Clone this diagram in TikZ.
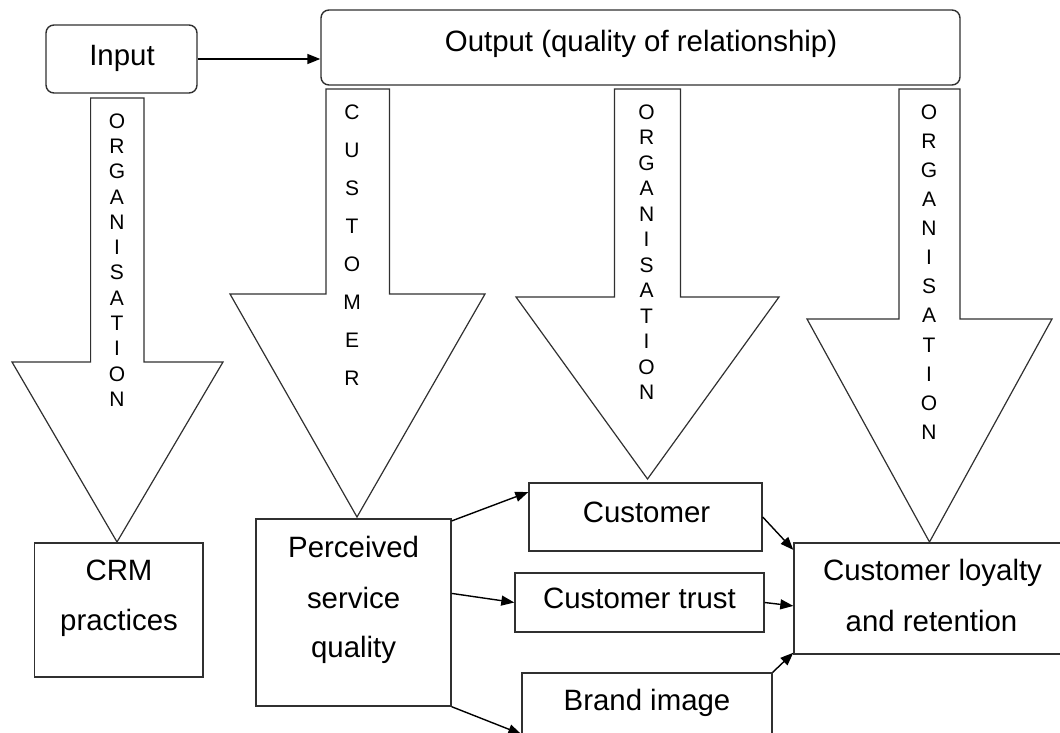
\documentclass[tikz,border=0pt]{standalone}
\usepackage{fontspec}
\setmainfont{Liberation Sans}
\usetikzlibrary{arrows.meta}
\definecolor{linegray}{HTML}{303030}
\begin{document}
\begin{tikzpicture}[x=1pt,y=-1pt,
  frame/.style={draw=linegray, line width=1.4pt, fill=white, inner sep=0pt},
  rbox/.style={frame, rounded corners=8pt},
  blockarrow/.style={draw=linegray, line width=1.2pt, fill=white, line join=miter},
  lbl/.style={font=\fontsize{29.4}{34}\selectfont, anchor=base, inner sep=0pt},
  vtxt/.style={align=center, inner sep=0pt},
  link/.style={draw=black, line width=1.4pt, -{Triangle[length=13pt,width=10pt]}}
]
\useasboundingbox (0,0) rectangle (1060,733);
\clip (0,0) rectangle (1060,733);

% block arrows
\draw[blockarrow] (90.6,98) -- (144,98) -- (144,362) -- (223,362) -- (117,542)
  -- (12,362) -- (90.6,362) -- cycle;
\draw[blockarrow] (326,89) -- (389.5,89) -- (389.5,294) -- (485,294) -- (357,517)
  -- (230,294) -- (326,294) -- cycle;
\draw[blockarrow] (614.5,89) -- (680.4,89) -- (680.4,297) -- (779,297) -- (647.5,479)
  -- (516,297) -- (614.5,297) -- cycle;
\draw[blockarrow] (899,89) -- (960,89) -- (960,319) -- (1052,319) -- (929.5,542)
  -- (807,319) -- (899,319) -- cycle;

% lettering inside the block arrows
\node[vtxt, font=\fontsize{21}{25.3}\selectfont] (v1) at (117,260)
  {O\\R\\G\\A\\N\\I\\S\\A\\T\\I\\O\\N};
\node[vtxt, font=\fontsize{21}{38}\selectfont] (v2) at (352,245)
  {C\\U\\S\\T\\O\\M\\E\\R};
\node[vtxt, font=\fontsize{21}{25.5}\selectfont] (v3) at (646.6,252)
  {O\\R\\G\\A\\N\\I\\S\\A\\T\\I\\O\\N};
\node[vtxt, font=\fontsize{21}{29.1}\selectfont] (v4) at (929,272)
  {O\\R\\G\\A\\N\\I\\S\\A\\T\\I\\O\\N};

% boxes
\node[rbox, minimum width=151pt, minimum height=68pt] (input) at (121.5,59) {};
\node[rbox, minimum width=639pt, minimum height=75pt] (output) at (640.5,47.5) {};
\node[frame, minimum width=168.5pt, minimum height=134pt] (crm) at (118.75,610) {};
\node[frame, minimum width=195pt, minimum height=187pt] (pq) at (353.5,612.5) {};
\node[frame, minimum width=233pt, minimum height=68pt] (cust) at (645.5,517) {};
\node[frame, minimum width=249pt, minimum height=59pt] (trust) at (639.5,602.5) {};
\node[frame, minimum width=250pt, minimum height=87pt] (brand) at (647,716.5) {};
\node[frame, minimum width=281pt, minimum height=111pt] (loyal) at (934.5,598.5) {};

% box texts
\node[lbl] (inputtext) at (122,66) {Input};
\node[lbl] (outputtext) at (641,52) {Output (quality of relationship)};
\node[lbl] (crmA) at (119,580) {CRM};
\node[lbl] (crmB) at (119,630) {practices};
\node[lbl] (pqA) at (353.6,557) {Perceived};
\node[lbl] (pqB) at (353.6,608) {service};
\node[lbl] (pqC) at (353.6,657) {quality};
\node[lbl] (custtext) at (646.5,522) {Customer};
\node[lbl] (trusttext) at (639.5,608) {Customer trust};
\node[lbl] (brandtext) at (647,710) {Brand image};
\node[lbl] (loyalA) at (932.5,580) {Customer loyalty};
\node[lbl] (loyalB) at (931.5,631) {and retention};

% connectors
\draw[link] (input.east) -- (input.east -| output.west);
\draw[link] (pq.43) -- (cust.168);
\draw[link] (pq.11) -- (trust.west);
\draw[link] (pq.south east) -- (brand.188);
\draw[link] (cust.east) -- (loyal.161);
\draw[link] (trust.east) -- (loyal.183.5);
\draw[link] (brand.north east) -- (loyal.201);
\end{tikzpicture}
\end{document}
